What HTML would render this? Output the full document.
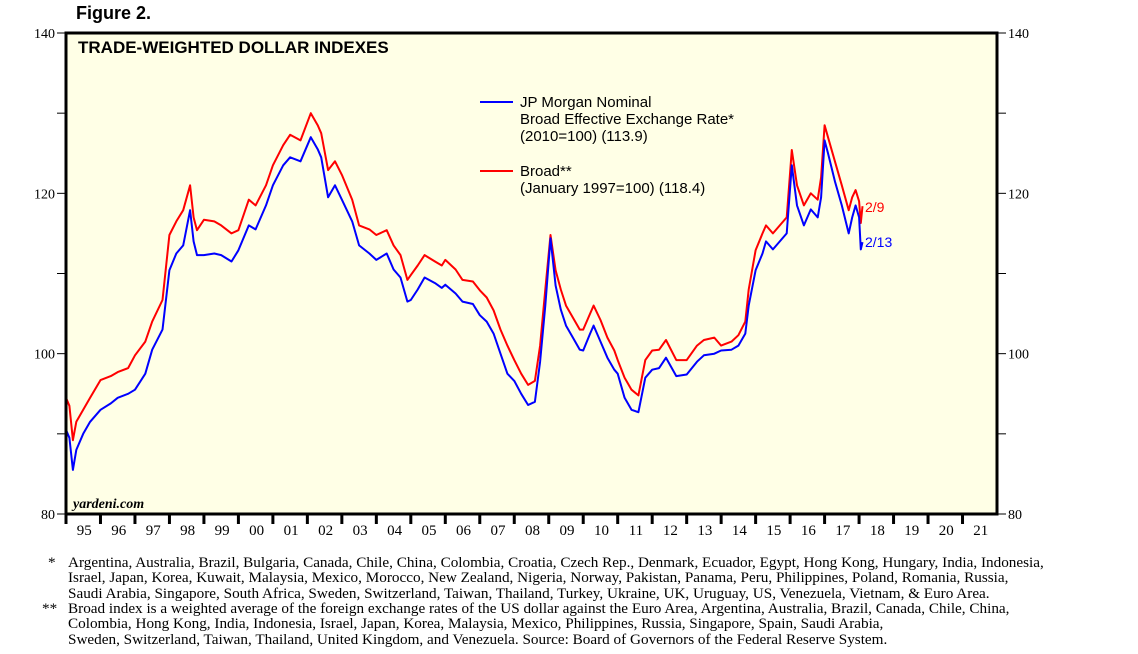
<!DOCTYPE html>
<html><head><meta charset="utf-8"><style>
body{margin:0;background:#fff;width:1138px;height:654px;overflow:hidden;position:relative;font-family:"Liberation Sans",sans-serif}
.fn{position:absolute;font-family:"Liberation Serif",serif;font-size:15.2px;line-height:15.3px;color:#000;white-space:nowrap}
</style></head><body>
<div style="position:absolute;left:76px;top:3px;font-weight:bold;font-size:18px">Figure 2.</div>
<svg id="chart" width="1138" height="545" style="position:absolute;left:0;top:0"></svg>
<div class="fn" style="left:48px;top:555px;width:1000px">
<span style="position:absolute;left:0">*</span><div style="margin-left:20px">Argentina, Australia, Brazil, Bulgaria, Canada, Chile, China, Colombia, Croatia, Czech Rep., Denmark, Ecuador, Egypt, Hong Kong, Hungary, India, Indonesia,<br>Israel, Japan, Korea, Kuwait, Malaysia, Mexico, Morocco, New Zealand, Nigeria, Norway, Pakistan, Panama, Peru, Philippines, Poland, Romania, Russia,<br>Saudi Arabia, Singapore, South Africa, Sweden, Switzerland, Taiwan, Thailand, Turkey, Ukraine, UK, Uruguay, US, Venezuela, Vietnam, &amp; Euro Area.</div></div>
<div class="fn" style="left:42px;top:601px;width:1000px">
<span style="position:absolute;left:0">**</span><div style="margin-left:26px">Broad index is a weighted average of the foreign exchange rates of the US dollar against the Euro Area, Argentina, Australia, Brazil, Canada, Chile, China,<br>Colombia, Hong Kong, India, Indonesia, Israel, Japan, Korea, Malaysia, Mexico, Philippines, Russia, Singapore, Spain, Saudi Arabia,<br>Sweden, Switzerland, Taiwan, Thailand, United Kingdom, and Venezuela. Source: Board of Governors of the Federal Reserve System.</div></div>
<script>
const broadYears=[1995.0,1995.1,1995.2,1995.3,1995.5,1995.7,1996.0,1996.3,1996.5,1996.8,1997.0,1997.3,1997.5,1997.8,1998.0,1998.2,1998.4,1998.6,1998.7,1998.8,1999.0,1999.3,1999.5,1999.8,2000.0,2000.3,2000.5,2000.8,2001.0,2001.3,2001.5,2001.8,2002.1,2002.3,2002.4,2002.6,2002.8,2003.0,2003.3,2003.5,2003.8,2004.0,2004.3,2004.5,2004.7,2004.9,2005.0,2005.2,2005.4,2005.7,2005.9,2006.0,2006.3,2006.5,2006.8,2007.0,2007.2,2007.4,2007.6,2007.8,2008.0,2008.2,2008.4,2008.6,2008.75,2008.9,2009.05,2009.2,2009.35,2009.5,2009.7,2009.9,2010.0,2010.2,2010.3,2010.5,2010.7,2010.9,2011.0,2011.2,2011.4,2011.6,2011.8,2012.0,2012.2,2012.4,2012.7,2013.0,2013.3,2013.5,2013.8,2014.0,2014.3,2014.5,2014.7,2014.8,2015.0,2015.2,2015.3,2015.5,2015.7,2015.9,2016.05,2016.2,2016.4,2016.6,2016.8,2016.9,2017.0,2017.1,2017.3,2017.5,2017.7,2017.8,2017.9,2018.0,2018.05,2018.1];
const broadValues=[94.5,93.5,89.2,91.5,93,94.5,96.7,97.2,97.7,98.2,99.8,101.5,104,106.7,114.8,116.5,117.9,121,117,115.4,116.7,116.5,116,115,115.4,119.2,118.5,121,123.5,126,127.3,126.6,130,128.5,127.5,122.9,124,122.3,119.2,116,115.5,114.8,115.4,113.5,112.3,109.2,109.8,111,112.3,111.5,111,111.7,110.5,109.2,109,107.9,107,105.4,103,101,99.2,97.5,96.1,96.6,101,108,114.8,110.4,108,106,104.5,103,103,105,106,104.2,102,100.4,99.2,97,95.5,94.8,99.2,100.4,100.5,101.7,99.2,99.2,101,101.7,102,101,101.5,102.3,104,108,112.9,115,116,115,116,117,125.4,121,118.5,120,119.2,122,128.5,127,124,121,117.9,119.5,120.4,119,116.3,118.4];
const jpmYears=[1995.0,1995.1,1995.2,1995.3,1995.5,1995.7,1996.0,1996.3,1996.5,1996.8,1997.0,1997.3,1997.5,1997.8,1998.0,1998.2,1998.4,1998.6,1998.7,1998.8,1999.0,1999.3,1999.5,1999.8,2000.0,2000.3,2000.5,2000.8,2001.0,2001.3,2001.5,2001.8,2002.1,2002.3,2002.4,2002.6,2002.8,2003.0,2003.3,2003.5,2003.8,2004.0,2004.3,2004.5,2004.7,2004.9,2005.0,2005.2,2005.4,2005.7,2005.9,2006.0,2006.3,2006.5,2006.8,2007.0,2007.2,2007.4,2007.6,2007.8,2008.0,2008.2,2008.4,2008.6,2008.75,2008.9,2009.05,2009.2,2009.35,2009.5,2009.7,2009.9,2010.0,2010.2,2010.3,2010.5,2010.7,2010.9,2011.0,2011.2,2011.4,2011.6,2011.8,2012.0,2012.2,2012.4,2012.7,2013.0,2013.3,2013.5,2013.8,2014.0,2014.3,2014.5,2014.7,2014.8,2015.0,2015.2,2015.3,2015.5,2015.7,2015.9,2016.05,2016.2,2016.4,2016.6,2016.8,2016.9,2017.0,2017.1,2017.3,2017.5,2017.7,2017.8,2017.9,2018.0,2018.05,2018.1];
const jpmValues=[90.5,89.5,85.5,88,90,91.5,93,93.8,94.5,95,95.5,97.5,100.5,103,110.4,112.5,113.5,117.9,114,112.3,112.3,112.5,112.3,111.5,112.9,116,115.5,118.5,121,123.5,124.5,124,127,125.5,124.5,119.5,121,119.2,116.5,113.5,112.5,111.7,112.5,110.5,109.5,106.5,106.7,108,109.5,108.8,108.2,108.6,107.5,106.5,106.2,104.8,104,102.5,100,97.5,96.6,95,93.6,94,99,106,114.4,108.5,105.5,103.5,102,100.5,100.4,102.5,103.5,101.5,99.5,98,97.5,94.5,93,92.7,97,98,98.2,99.5,97.2,97.4,99,99.8,100,100.4,100.5,101,102.5,106,110.4,112.5,114,113,114,115,123.5,118.5,116,118,117,119.5,126.6,125,121.5,118.5,115,117,118.5,117,113,113.9];
const yTicks=[80,90,100,110,120,130,140];
const yLabels=["80","","100","","120","","140"];
const xLabels=["95","96","97","98","99","00","01","02","03","04","05","06","07","08","09","10","11","12","13","14","15","16","17","18","19","20","21"];

const NS="http://www.w3.org/2000/svg";
const svg=document.getElementById('chart');
const L=66,R=997,T=33,B=514,Y0=1995,Y1=2022;
const xs=y=>L+(y-Y0)/(Y1-Y0)*(R-L);
const ys=v=>B-(v-80)/60*(B-T);
function mk(tag,attrs,parent){const e=document.createElementNS(NS,tag);for(const k in attrs)e.setAttribute(k,attrs[k]);(parent||svg).appendChild(e);return e;}
const bg=mk('rect',{x:L,y:T,width:R-L,height:B-T,fill:'#ffffe6'});


yTicks.forEach((v,i)=>{
 const t1=mk('line',{x1:L-9,x2:L,y1:ys(v),y2:ys(v),stroke:'#000','stroke-width':1});
 
 
 const t2=mk('line',{x1:R,x2:R+9,y1:ys(v),y2:ys(v),stroke:'#000','stroke-width':1});
 
 
 if(yLabels[i]){
  const a=mk('text',{x:L-11,y:ys(v)+5,'text-anchor':'end','font-family':'Liberation Serif','font-size':14});
  a.textContent=yLabels[i];
  
  
  const b=mk('text',{x:R+11,y:ys(v)+5,'font-family':'Liberation Serif','font-size':14});
  b.textContent=yLabels[i];
  
  
 }
});
xLabels.forEach((lab,i)=>{
 const yr=Y0+i;
 const tk=mk('line',{x1:xs(yr),x2:xs(yr),y1:B,y2:B+10,stroke:'#000','stroke-width':3});
 
 
 const t=mk('text',{x:xs(yr+0.5)+1,y:B+21,'text-anchor':'middle','font-family':'Liberation Serif','font-size':15});
 t.textContent=lab;
 
 
});
function line(xa,va,color,name){
 const d=xa.map((x,i)=>(i?'L':'M')+xs(x).toFixed(1)+','+ys(va[i]).toFixed(1)).join('');
 const p=mk('path',{d:d,fill:'none',stroke:color,'stroke-width':2,'stroke-linejoin':'round'});
 
 
}
line(broadYears,broadValues,'#ff0000','broad-index-line');
line(jpmYears,jpmValues,'#0000ff','jpm-index-line');
const fr=mk('rect',{x:L,y:T,width:R-L,height:B-T,fill:'none',stroke:'#000','stroke-width':3});


function txt(x,y,s,attrs,name){const t=mk('text',Object.assign({x:x,y:y},attrs));t.textContent=s;return t;}
txt(78,53,'TRADE-WEIGHTED DOLLAR INDEXES',{'font-weight':'bold','font-size':17,'font-family':'Liberation Sans'},'chart-title');
txt(73,508,'yardeni.com',{'font-style':'italic','font-weight':'bold','font-size':14,'font-family':'Liberation Serif'},'source-watermark');
const lg1=mk('line',{x1:480,x2:513,y1:102,y2:102,stroke:'#0000ff','stroke-width':2});


const lf={'font-size':15,'font-family':'Liberation Sans'};
txt(520,107,'JP Morgan Nominal',lf,'legend-jpm-text');
txt(520,124,'Broad Effective Exchange Rate*',lf,'legend-jpm-text-2');
txt(520,141,'(2010=100) (113.9)',lf,'legend-jpm-text-3');
const lg2=mk('line',{x1:480,x2:513,y1:171,y2:171,stroke:'#ff0000','stroke-width':2});


txt(520,176,'Broad**',lf,'legend-broad-text');
txt(520,193,'(January 1997=100) (118.4)',lf,'legend-broad-text-2');
txt(865,212,'2/9',{'font-size':14,'fill':'#ff0000'},'broad-end-label');
txt(865,247,'2/13',{'font-size':14,'fill':'#0000ff'},'jpm-end-label');
</script>
</body></html>
